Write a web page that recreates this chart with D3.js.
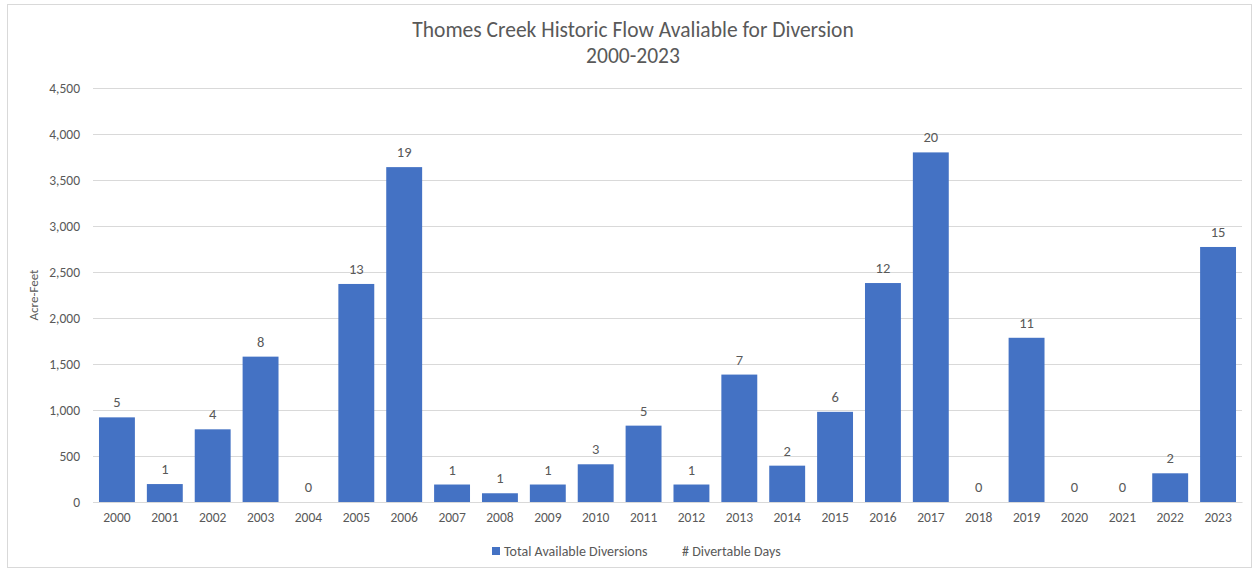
<!DOCTYPE html>
<html>
<head>
<meta charset="utf-8">
<script src="https://cdn.jsdelivr.net/npm/d3@7"></script>
<style>
  body { margin: 0; background: #fff; }
  text { font-family: Calibri, Carlito, "Open Sans", "Liberation Sans", sans-serif; fill: #595959; }
</style>
</head>
<body>
<div id="chart"></div>
<script>
var years = ["2000","2001","2002","2003","2004","2005","2006","2007","2008","2009","2010","2011",
	"2012","2013","2014","2015","2016","2017","2018","2019","2020","2021","2022","2023"];
var acreFeet = [920, 195, 790, 1580, 0, 2370, 3640, 190, 95, 190, 410, 830,
	190, 1385, 395, 980, 2380, 3800, 0, 1785, 0, 0, 312, 2772];
var divertableDays = [5, 1, 4, 8, 0, 13, 19, 1, 1, 1, 3, 5, 1, 7, 2, 6, 12, 20, 0, 11, 0, 0, 2, 15];
var yTicks = [0, 500, 1000, 1500, 2000, 2500, 3000, 3500, 4000, 4500];

var W = 1255, H = 571;
var margin = {top: 88, right: 13, bottom: 69, left: 93},
	width = W - margin.left - margin.right,
	height = H - margin.top - margin.bottom;
var fontStack = "Calibri, Carlito, 'Open Sans', 'Liberation Sans', sans-serif";

var svg = d3.select("#chart").append("svg")
	.attr("width", W)
	.attr("height", H);

// chart frame
svg.append("rect")
	.attr("x", 7.5).attr("y", 4.5)
	.attr("width", 1244).attr("height", 563)
	.attr("fill", "#fff")
	.attr("stroke", "#d9d9d9");

svg.append("text")
	.attr("x", 633).attr("y", 37)
	.attr("text-anchor", "middle")
	.style("font-size", "21.5px")
	.text("Thomes Creek Historic Flow Avaliable for Diversion");
svg.append("text")
	.attr("x", 633).attr("y", 63)
	.attr("text-anchor", "middle")
	.style("font-size", "21.5px")
	.text("2000-2023");

var g = svg.append("g")
	.attr("transform", "translate(" + margin.left + "," + margin.top + ")");

var x = d3.scaleBand().domain(years).range([0, width]).paddingInner(0.25).paddingOuter(0.125);
var y = d3.scaleLinear().domain([0, 4500]).range([height, 0]);

// gridlines + y labels
g.append("g")
	.call(d3.axisLeft(y).tickValues(yTicks).tickSize(-width).tickPadding(13).tickFormat(d3.format(",")))
	.call(function(a) {
		a.select(".domain").remove();
		a.selectAll("line").attr("stroke", "#d9d9d9");
		a.selectAll("text").style("font-size", "13.5px").attr("fill", "#595959")
			.style("font-family", fontStack);
	});

g.selectAll(".bar")
	.data(years)
	.enter()
	.append("rect")
	.attr("class", "bar")
	.attr("x", function(d) { return x(d); })
	.attr("width", x.bandwidth())
	.attr("y", function(d, i) { return y(acreFeet[i]); })
	.attr("height", function(d, i) { return height - y(acreFeet[i]); })
	.attr("fill", "#4472c4");

g.selectAll(".lbl")
	.data(years)
	.enter()
	.append("text")
	.attr("class", "lbl")
	.attr("x", function(d) { return x(d) + x.bandwidth() / 2; })
	.attr("y", function(d, i) { return y(acreFeet[i]) - 10; })
	.attr("text-anchor", "middle")
	.style("font-size", "14.5px")
	.text(function(d, i) { return divertableDays[i]; });

// x axis
g.append("g")
	.attr("transform", "translate(0," + height + ")")
	.call(d3.axisBottom(x).tickSize(0).tickPadding(10))
	.call(function(a) {
		a.select(".domain").attr("stroke", "#d9d9d9");
		a.selectAll("text").style("font-size", "13.5px").attr("fill", "#595959")
			.style("font-family", fontStack);
	});

g.append("text")
	.attr("transform", "translate(-55," + (height / 2) + ") rotate(-90)")
	.attr("text-anchor", "middle")
	.style("font-size", "13px")
	.text("Acre-Feet");

// legend
var legend = svg.append("g").attr("transform", "translate(492,551)");
legend.append("rect").attr("x", 0).attr("y", -4).attr("width", 8).attr("height", 8).attr("fill", "#4472c4");
legend.append("text").attr("x", 12).attr("y", 5).style("font-size", "14px").text("Total Available Diversions");
legend.append("text").attr("x", 190).attr("y", 5).style("font-size", "14px").text("# Divertable Days");
</script>
</body>
</html>
